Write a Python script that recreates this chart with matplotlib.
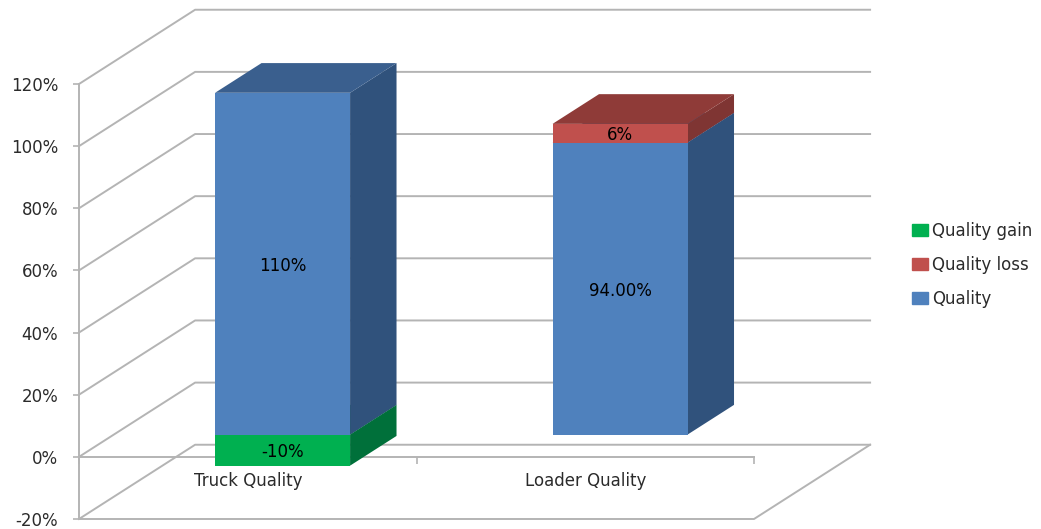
import matplotlib.pyplot as plt
from matplotlib.patches import Patch

categories = ["Truck Quality", "Loader Quality"]
quality = [110, 94]
quality_loss = [0, 6]
quality_gain = [-10, 0]
quality_labels = ["110%", "94.00%"]
loss_labels = [None, "6%"]
gain_labels = ["-10%", None]
y_ticks = [-20, 0, 20, 40, 60, 80, 100, 120]

BLUE = ("#4f81bd", "#3a5f8e", "#30527c")
RED = ("#c0504d", "#8f3b38", "#7f3533")
GREEN = ("#00b050", "#00843c", "#00703a")
GRID = "#b4b4b4"
TEXT = "#2b2b2b"

# depth of the 3d box in data units, per unit of floor depth
DX = 0.344
DY = 23.9
BAR_W = 0.4
BAR_NEAR = 0.3
BAR_FAR = 0.7


def block(ax, center, v0, v1, colors, z):
    left = center - BAR_W / 2 + BAR_NEAR * DX
    right = left + BAR_W
    near = BAR_NEAR * DY
    dx = (BAR_FAR - BAR_NEAR) * DX
    dy = (BAR_FAR - BAR_NEAR) * DY
    ax.fill([right, right + dx, right + dx, right],
            [v0 + near, v0 + near + dy, v1 + near + dy, v1 + near],
            color=colors[2], lw=0, zorder=z, clip_on=False)
    ax.fill([left, left + dx, right + dx, right],
            [v1 + near, v1 + near + dy, v1 + near + dy, v1 + near],
            color=colors[1], lw=0, zorder=z, clip_on=False)
    ax.bar(center + BAR_NEAR * DX, v1 - v0, BAR_W, bottom=v0 + near,
           color=colors[0], lw=0, zorder=z + 0.1, clip_on=False)


fig = plt.figure(figsize=(10.41, 5.29), dpi=100)
ax = fig.add_axes([79 / 1041, 1 - 519 / 529, 675 / 1041, 435 / 529])
ax.set_xlim(0, 2)
ax.set_ylim(-20, 120)
ax.patch.set_visible(False)

# back wall and left wall lines
for v in y_ticks:
    ax.plot([0, DX, 2 + DX], [v, v + DY, v + DY], color=GRID, lw=1.4,
            zorder=1, clip_on=False)
# floor front edge and right edge
ax.plot([0, 2, 2 + DX], [-20, -20, -20 + DY], color=GRID, lw=1.4,
        zorder=1, clip_on=False)

for i, name in enumerate(categories):
    center = i + 0.5
    if quality_gain[i] != 0:
        block(ax, center, quality_gain[i], 0, GREEN, 3)
    block(ax, center, 0, quality[i], BLUE, 4)
    if quality_loss[i] != 0:
        block(ax, center, quality[i], quality[i] + quality_loss[i], RED, 5)

    x = center + BAR_NEAR * DX
    near = BAR_NEAR * DY
    ax.text(x, quality[i] / 2 + near, quality_labels[i], ha="center",
            va="center_baseline", fontsize=12, color="black", zorder=7)
    if loss_labels[i]:
        ax.text(x, quality[i] + quality_loss[i] / 2 + near, loss_labels[i],
                ha="center", va="center_baseline", fontsize=12, color="black", zorder=7)
    if gain_labels[i]:
        ax.text(x, quality_gain[i] / 2 + near, gain_labels[i], ha="center",
                va="center_baseline", fontsize=12, color="black", zorder=7)

for side in ["top", "right"]:
    ax.spines[side].set_visible(False)
ax.spines["left"].set_color(GRID)
ax.spines["left"].set_linewidth(1.4)
ax.spines["bottom"].set_position(("data", 0))
ax.spines["bottom"].set_color(GRID)
ax.spines["bottom"].set_linewidth(1.4)

ax.set_yticks(y_ticks)
ax.set_yticklabels([f"{v}%" for v in y_ticks], fontsize=12, color=TEXT)
ax.tick_params(axis="y", length=4, width=1.2, color=GRID, pad=11)

ax.set_xticks([0, 1, 2])
ax.set_xticklabels(["", "", ""])
ax.set_xticks([0.5, 1.5], minor=True)
ax.set_xticklabels(categories, minor=True, fontsize=12, color=TEXT)
ax.tick_params(axis="x", which="major", length=5, width=1.2, color=GRID)
ax.tick_params(axis="x", which="minor", length=0, pad=11)

handles = [Patch(color=GREEN[0]), Patch(color=RED[0]), Patch(color=BLUE[0])]
fig.legend(handles, ["Quality gain", "Quality loss", "Quality"],
           loc="center left", bbox_to_anchor=(897 / 1041, 1 - 265 / 529),
           frameon=False, fontsize=12, labelcolor=TEXT, handlelength=0.95,
           handleheight=0.75, handletextpad=0.25, labelspacing=0.95)

fig.savefig("out.png", dpi=100)
